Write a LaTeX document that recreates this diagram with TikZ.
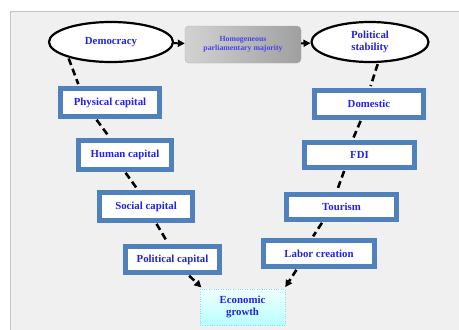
\documentclass[tikz,border=0pt]{standalone}
\usepackage{fontspec}
\setmainfont{Liberation Serif}
\usepackage[dvipsnames]{xcolor}
\usetikzlibrary{shapes.geometric,arrows.meta}
\definecolor{boxblue}{HTML}{4F81BD}
\definecolor{txtblue}{HTML}{2222E8}
\definecolor{bggray}{HTML}{F0F0F0}
\definecolor{framegray}{HTML}{C4C4C4}

\begin{document}
\begin{tikzpicture}[x=1pt, y=-1pt,
    every node/.style={align=center, text=txtblue, font=\fontsize{10.8}{12.5}\selectfont\bfseries},
    oval/.style={ellipse, draw=black, line width=2.2pt, fill=white, inner sep=0pt, minimum height=40pt},
    capbox/.style={draw=boxblue, line width=5pt, fill=white, inner sep=0pt},
    majority/.style={draw=gray!60, rounded corners=4pt, left color=gray!35, middle color=gray!15, right color=gray!75,
        minimum width=116pt, minimum height=37pt, inner sep=0pt, text=txtblue!85, font=\fontsize{7.8}{9.5}\selectfont\bfseries},
    growth/.style={draw=cyan!45, dotted, top color=cyan!6, bottom color=cyan!28,
        minimum width=85pt, minimum height=36pt, inner sep=0pt},
    link/.style={line width=2.6pt, dash pattern=on 7pt off 4pt, shorten <=1pt, shorten >=2pt},
    tip/.style={-{Triangle[length=7pt, width=7pt]}}
  ]
  \useasboundingbox (0,0) rectangle (459,330);
  \fill[white] (0,0) rectangle (459,330);
  \fill[bggray] (10,11) rectangle (459,330);
  \draw[framegray, line width=1pt] (10,330) -- (10,11) -- (459,11);

  % top row
  \node[oval, minimum width=124pt] (dem) at (111,42) {Democracy};
  \node[majority] (hom) at (243,44.5) {Homogeneous\\parliamentary majority};
  \node[oval, minimum width=117pt] (stab) at (370,42) {Political\\stability};
  \draw[tip, line width=2pt] (dem) -- (hom);
  \draw[tip, line width=2pt] (hom) -- (stab);

  % left branch
  \node[capbox, minimum width=99pt, minimum height=28pt] (phys) at (110,102.5) {Physical capital};
  \node[capbox, minimum width=93pt, minimum height=29pt] (human) at (125,155) {Human capital};
  \node[capbox, minimum width=93pt, minimum height=28pt] (social) at (146,206.5) {Social capital};
  \node[capbox, minimum width=94pt, minimum height=26pt] (polcap) at (172.5,259.5) {Political capital};

  % right branch
  \node[capbox, minimum width=109pt, minimum height=27pt] (dom) at (369,104) {Domestic};
  \node[capbox, minimum width=110pt, minimum height=25pt] (fdi) at (359.5,155) {FDI};
  \node[capbox, minimum width=110pt, minimum height=25pt] (tour) at (341.5,207) {Tourism};
  \node[capbox, minimum width=111pt, minimum height=26pt] (labor) at (319,253.5) {Labor creation};

  \node[growth] (eco) at (242.5,307) {Economic\\growth};

  \draw[link] (dem.200) -- ([xshift=-31pt]phys.north);
  \draw[link] ([xshift=-14pt]phys.south) -- ([xshift=-15pt]human.north);
  \draw[link] (human.south) -- ([xshift=-8pt]social.north);
  \draw[link] ([xshift=10pt]social.south) -- ([xshift=-4pt]polcap.north);
  \draw[link, tip] ([xshift=16pt]polcap.south) -- ([xshift=3pt]eco.north west);

  \draw[link] ([xshift=8pt]stab.south) -- ([xshift=1pt]dom.north);
  \draw[link] ([xshift=-8pt]dom.south) -- ([xshift=-7pt]fdi.north);
  \draw[link] ([xshift=-15pt]fdi.south) -- ([xshift=-5pt]tour.north);
  \draw[link] ([xshift=-19pt]tour.south) -- ([xshift=-7pt]labor.north);
  \draw[link, tip] ([xshift=-22pt]labor.south) -- ([xshift=-1pt]eco.north east);
\end{tikzpicture}
\end{document}
